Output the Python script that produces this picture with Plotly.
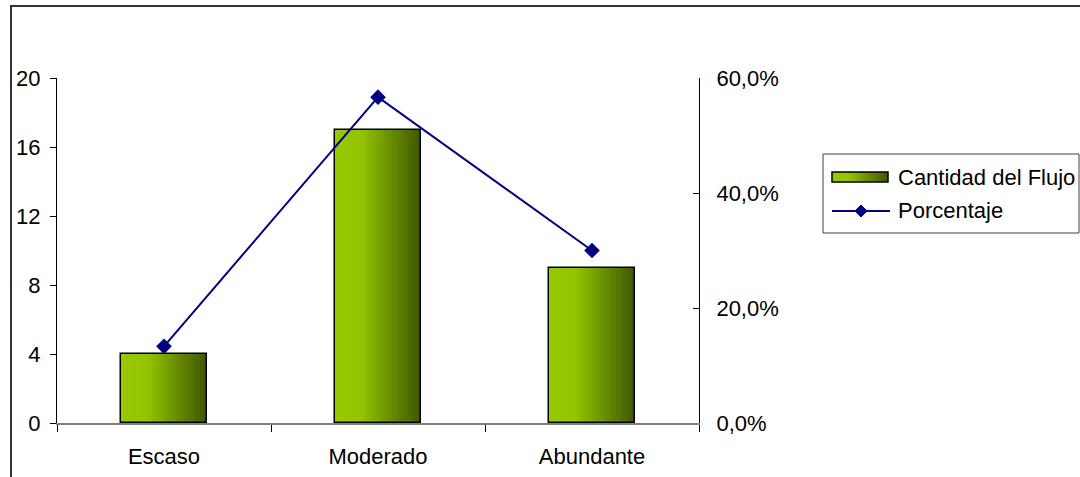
import plotly.graph_objects as go

# --- data ---
categorias = ["Escaso", "Moderado", "Abundante"]
cantidad = [4, 17, 9]
total = sum(cantidad)
porcentaje = [c / total for c in cantidad]

serie_barras = "Cantidad del Flujo"
serie_linea = "Porcentaje"

# --- style ---
FONT = "Arial, 'Liberation Sans', sans-serif"
FS = 22
NAVY = "#000080"
BAR_W = 0.4
N_STRIPS = 36


def gradient_color(t):
    """Light yellow-green on the left fading to dark olive on the right."""
    stops = [(0.0, (150, 201, 0)), (0.3, (148, 197, 0)), (0.65, (104, 142, 0)), (1.0, (62, 86, 0))]
    for (t0, c0), (t1, c1) in zip(stops[:-1], stops[1:]):
        if t <= t1:
            f = (t - t0) / (t1 - t0) if t1 > t0 else 0
            r, g, b = (round(a + (b_ - a) * f) for a, b_ in zip(c0, c1))
            return f"rgb({r},{g},{b})"
    r, g, b = stops[-1][1]
    return f"rgb({r},{g},{b})"


fig = go.Figure()

# bars drawn as vertical gradient strips, then an outline on top
step = BAR_W / N_STRIPS
for i in range(N_STRIPS):
    t = (i + 0.5) / N_STRIPS
    w = step * 1.6 if i < N_STRIPS - 1 else step
    fig.add_trace(go.Bar(
        x=categorias, y=cantidad, width=w, offset=-BAR_W / 2 + i * step,
        marker=dict(color=gradient_color(t), line=dict(width=0)),
        showlegend=False, hoverinfo="skip",
    ))

fig.add_trace(go.Bar(
    x=categorias, y=cantidad, width=BAR_W, offset=-BAR_W / 2,
    marker=dict(color="rgba(0,0,0,0)", line=dict(color="black", width=1.5)),
    name=serie_barras, showlegend=False,
))

fig.add_trace(go.Scatter(
    x=categorias, y=porcentaje, yaxis="y2", mode="lines+markers",
    line=dict(color=NAVY, width=2),
    marker=dict(symbol="diamond", size=12, color=NAVY),
    name=serie_linea, showlegend=False,
))

# --- legend box built from shapes and annotations ---
PW, PH = 642.0, 345.0  # plot area size in px


def px_x(v):
    return v / PW


def px_y(v):
    return v / PH


shapes = []
# outer chart frame
shapes.append(dict(type="rect", xref="paper", yref="paper",
                   x0=px_x(11 - 57), x1=px_x(1090 - 57), y0=px_y(423 - 490), y1=px_y(423 - 6),
                   line=dict(color="#333333", width=2), fillcolor="rgba(0,0,0,0)", layer="below"))

# legend frame
lx0, lx1, ly_top, ly_bot = 823, 1079, 154, 233
shapes.append(dict(type="rect", xref="paper", yref="paper",
                   x0=px_x(lx0 - 57), x1=px_x(lx1 - 57), y0=px_y(423 - ly_bot), y1=px_y(423 - ly_top),
                   line=dict(color="#404040", width=1), fillcolor="white"))

# legend swatch for bars (gradient rectangle)
sx0, sx1, sy0, sy1 = 832, 888, 172, 182
n_sw = 24
for i in range(n_sw):
    a = sx0 + (sx1 - sx0) * i / n_sw
    b = sx0 + (sx1 - sx0) * (i + 1.4) / n_sw if i < n_sw - 1 else sx1
    shapes.append(dict(type="rect", xref="paper", yref="paper",
                       x0=px_x(a - 57), x1=px_x(b - 57), y0=px_y(423 - sy1), y1=px_y(423 - sy0),
                       line=dict(width=0), fillcolor=gradient_color((i + 0.5) / n_sw)))
shapes.append(dict(type="rect", xref="paper", yref="paper",
                   x0=px_x(sx0 - 57), x1=px_x(sx1 - 57), y0=px_y(423 - sy1), y1=px_y(423 - sy0),
                   line=dict(color="black", width=1.5), fillcolor="rgba(0,0,0,0)"))

# legend swatch for the line (line + diamond)
ly = 211
shapes.append(dict(type="line", xref="paper", yref="paper",
                   x0=px_x(832 - 57), x1=px_x(890 - 57), y0=px_y(423 - ly), y1=px_y(423 - ly),
                   line=dict(color=NAVY, width=2)))
cx, cy, d = px_x(861 - 57), px_y(423 - ly), 6
shapes.append(dict(type="path", xref="paper", yref="paper",
                   path=f"M {cx},{cy + px_y(d)} L {cx + px_x(d)},{cy} L {cx},{cy - px_y(d)} L {cx - px_x(d)},{cy} Z",
                   fillcolor=NAVY, line=dict(color=NAVY, width=1)))

annotations = [
    dict(text=serie_barras, xref="paper", yref="paper", x=px_x(896 - 57), y=px_y(423 - 177),
         xanchor="left", yanchor="middle", showarrow=False, font=dict(family=FONT, size=FS, color="black")),
    dict(text=serie_linea, xref="paper", yref="paper", x=px_x(896 - 57), y=px_y(423 - 211),
         xanchor="left", yanchor="middle", showarrow=False, font=dict(family=FONT, size=FS, color="black")),
]

fig.update_layout(
    width=1080, height=477, autosize=False,
    margin=dict(l=57, r=381, t=78, b=54, pad=0),
    paper_bgcolor="white", plot_bgcolor="white",
    barmode="overlay", bargap=0,
    separators=",.",
    font=dict(family=FONT, size=FS, color="black"),
    showlegend=False,
    xaxis=dict(
        type="category", range=[-0.5, 2.5], tickson="boundaries",
        ticks="outside", ticklen=7, tickwidth=1, tickcolor="black",
        showline=True, linecolor="#808080", linewidth=2,
        showgrid=False, zeroline=False, ticklabelstandoff=13, automargin=False,
    ),
    yaxis=dict(
        range=[0, 20], dtick=4, tick0=0,
        ticks="outside", ticklen=6, tickcolor="black", tickwidth=1,
        showline=True, linecolor="black", linewidth=1,
        showgrid=False, zeroline=False, ticklabelstandoff=5, automargin=False,
    ),
    yaxis2=dict(
        overlaying="y", side="right", range=[0, 0.6], dtick=0.2, tick0=0,
        tickformat=".1%",
        ticks="inside", ticklen=6, tickcolor="black", tickwidth=1,
        showline=True, linecolor="black", linewidth=1,
        showgrid=False, zeroline=False, ticklabelstandoff=12, automargin=False,
    ),
    shapes=shapes,
    annotations=annotations,
)

fig.write_html("out.html")
